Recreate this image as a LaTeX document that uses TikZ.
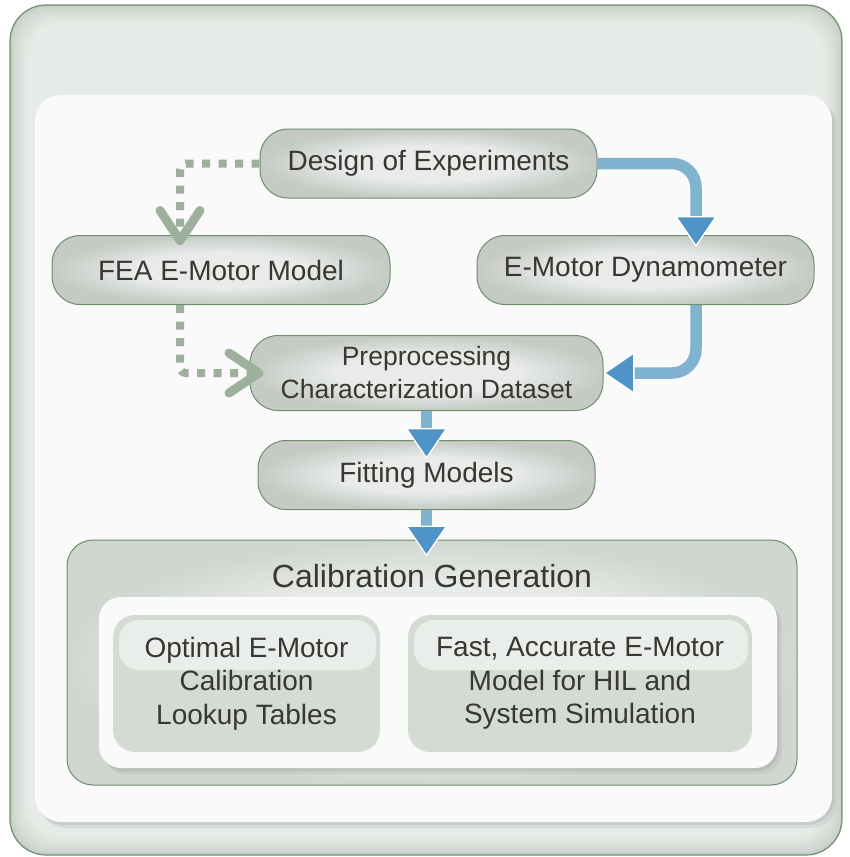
\documentclass[tikz,border=0pt]{standalone}
\usepackage{fontspec}
\setmainfont{Liberation Sans}
\usetikzlibrary{arrows.meta,shadows,calc}
\definecolor{frameborder}{HTML}{70906F}
\definecolor{framelight}{HTML}{E7EBE7}
\definecolor{framedark}{HTML}{C3C9C3}
\definecolor{panelwhite}{HTML}{FAFAFA}
\definecolor{boxin}{HTML}{E8EBE8}
\definecolor{boxout}{HTML}{C5CAC5}
\definecolor{boxborder}{HTML}{6E8E6E}
\definecolor{calgenin}{HTML}{E8ECE8}
\definecolor{calgenout}{HTML}{D0D6D0}
\definecolor{calfill}{HTML}{D3DBD3}
\definecolor{calhl}{HTML}{E9EEEA}
\definecolor{txt}{HTML}{3A3633}
\definecolor{blueline}{HTML}{80B3CF}
\definecolor{bluehead}{HTML}{4F94C6}
\definecolor{greenline}{HTML}{9DB09C}
\pgfdeclareradialshading{boxshade}{\pgfpoint{0bp}{0bp}}{color(0bp)=(boxin); color(13bp)=(boxin); color(25bp)=(boxout); color(50bp)=(boxout)}
\pgfdeclareradialshading{calgenshade}{\pgfpoint{0bp}{0bp}}{color(0bp)=(calgenin); color(16bp)=(calgenin); color(25bp)=(calgenout); color(50bp)=(calgenout)}
\tikzset{
  stepbox/.style={draw=boxborder, line width=1pt, rounded corners=28pt, shade, shading=boxshade,
    minimum width=337pt, minimum height=69pt, text=txt, font=\fontsize{28}{33.5}\selectfont,
    align=center, inner sep=0pt},
  calgenbox/.style={draw=boxborder, line width=1pt, rounded corners=26pt, shade, shading=calgenshade, inner sep=0pt},
  whitepanel/.style={fill=panelwhite, rounded corners=22pt, inner sep=0pt,
    drop shadow={shadow xshift=2pt, shadow yshift=-3pt, opacity=0.18},
    drop shadow={shadow xshift=5pt, shadow yshift=-6pt, opacity=0.12}},
  calbox/.style={fill=calfill, rounded corners=22pt, inner sep=0pt, text=txt,
    font=\fontsize{28}{33.5}\selectfont, align=center,
    path picture={\fill[calhl, rounded corners=20pt]
      ([xshift=6pt,yshift=-5pt]path picture bounding box.north west) rectangle
      ([xshift=-4pt,yshift=-55pt]path picture bounding box.north east);}},
  bluearrow/.style={draw=blueline, line width=11.5pt,
    -{Triangle[width=42pt,length=31pt,fill=bluehead,color=white,line width=1.3pt]}},
  greenarrow/.style={draw=greenline, line width=8pt, dash pattern=on 8pt off 8.5pt,
    -{Straight Barb[length=30pt,width=40pt,line width=9pt,round]}},
}
\begin{document}
\begin{tikzpicture}[x=1pt,y=-1pt]
\useasboundingbox (0,0) rectangle (849,857);
% outer frame with inner shading
\fill[framedark, rounded corners=36pt] (10,5) rectangle (842,855);
\foreach \i in {1,...,14}{
  \pgfmathsetmacro\p{100*(\i/14)^0.6}
  \fill[framelight!\p!framedark, rounded corners=35pt] ({10+\i*1.3},{5+\i*1.3}) rectangle ({842-\i*1.3},{855-\i*1.3});
}
\draw[frameborder, line width=1.2pt, rounded corners=36pt] (10,5) rectangle (842,855);
% main white panel
\path[whitepanel, rounded corners=26pt] (35,95) rectangle (832,822);
% flow boxes
\node[stepbox] (doe) at (428.5,163.5) {Design of Experiments};
\node[stepbox, minimum width=338pt] (fea) at (221,270) {FEA E-Motor Model};
\node[stepbox] (dyno) at (645.5,270) {E-Motor Dynamometer};
\node[stepbox, minimum width=353pt, minimum height=75pt, font=\fontsize{26.5}{33}\selectfont] (prep) at (426.5,373) {Preprocessing\\Characterization Dataset};
\node[stepbox] (fit) at (426.5,475) {Fitting Models};
% calibration generation
\node[calgenbox, minimum width=730pt, minimum height=245pt] (calgen) at (432,662.5) {};
\node[text=txt, font=\fontsize{32}{36}\selectfont] (calgentitle) at (432,576) {Calibration Generation};
\node[whitepanel, minimum width=678pt, minimum height=171pt] (calpanel) at (438,682.5) {};
\node[calbox, minimum width=267pt, minimum height=137pt] (calA) at (246.5,683.5) {Optimal E-Motor\\Calibration\\Lookup Tables};
\node[calbox, minimum width=344pt, minimum height=137pt] (calB) at (580,683.5) {Fast, Accurate E-Motor\\Model for HIL and\\System Simulation};
% blue connectors
\draw[bluearrow, rounded corners=24pt, shorten >=-12pt] (doe.east) -| ($(dyno.north)+(50.5,0)$);
\draw[bluearrow, rounded corners=24pt] ($(dyno.south)+(50.5,0)$) |- (prep.east);
\draw[bluearrow, shorten >=-19pt] (prep.south) -- (fit.north);
\draw[bluearrow, shorten >=-17pt] (fit.south) -- (fit.south |- calgen.north);
% green dotted connectors
\draw[greenarrow, rounded corners=6pt, shorten >=-10pt] (doe.west) -| ($(fea.north)+(-41,0)$);
\draw[greenarrow, rounded corners=6pt, shorten >=-14pt] ($(fea.south)+(-41,0)$) |- (prep.west);
\end{tikzpicture}
\end{document}
